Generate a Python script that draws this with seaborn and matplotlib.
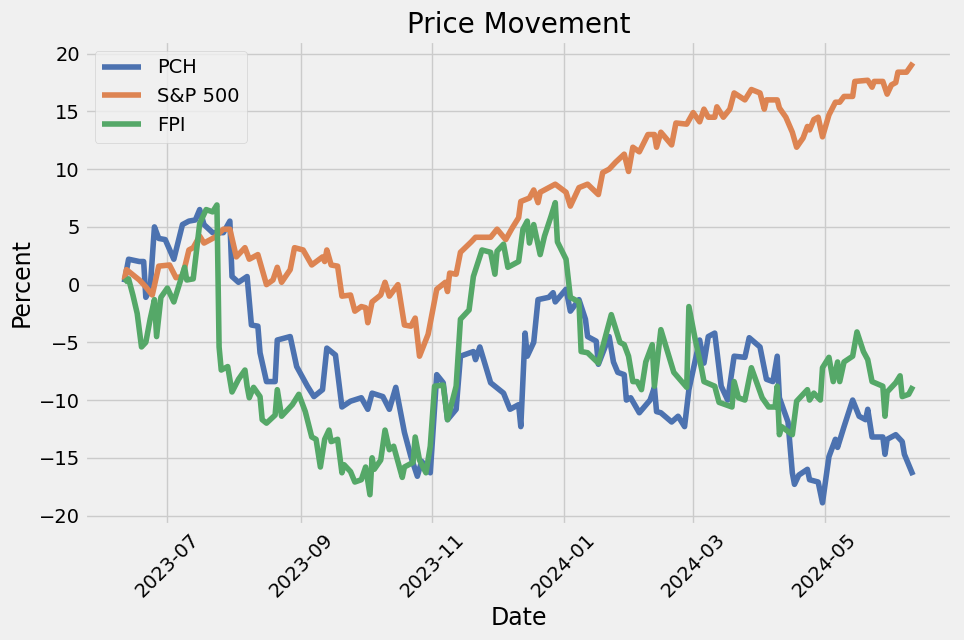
import pandas as pd
import matplotlib
matplotlib.use('Agg')
import matplotlib.pyplot as plt
import seaborn as sns

# vertices (cumulative % change)
pch_dates = ['2023-06-11', '2023-06-13', '2023-06-18', '2023-06-20', '2023-06-21', '2023-06-23',
             '2023-06-25', '2023-06-27', '2023-06-30', '2023-07-04', '2023-07-08', '2023-07-11',
             '2023-07-14', '2023-07-16', '2023-07-18', '2023-07-22', '2023-07-27', '2023-07-30',
             '2023-07-31', '2023-08-03', '2023-08-07', '2023-08-09', '2023-08-12', '2023-08-13',
             '2023-08-16', '2023-08-20', '2023-08-21', '2023-08-27', '2023-08-30', '2023-09-04',
             '2023-09-07', '2023-09-11', '2023-09-13', '2023-09-17', '2023-09-20', '2023-09-24',
             '2023-09-29', '2023-10-02', '2023-10-04', '2023-10-09', '2023-10-12', '2023-10-15',
             '2023-10-19', '2023-10-22', '2023-10-25', '2023-10-27', '2023-10-31', '2023-11-03',
             '2023-11-06', '2023-11-08', '2023-11-12', '2023-11-14', '2023-11-20', '2023-11-21',
             '2023-11-23', '2023-11-28', '2023-11-30', '2023-12-04', '2023-12-07', '2023-12-11',
             '2023-12-12', '2023-12-14', '2023-12-15', '2023-12-18', '2023-12-20', '2023-12-25',
             '2023-12-27', '2023-12-28', '2024-01-02', '2024-01-04', '2024-01-08', '2024-01-11',
             '2024-01-12', '2024-01-16', '2024-01-17', '2024-01-22', '2024-01-24', '2024-01-26',
             '2024-01-29', '2024-01-30', '2024-02-01', '2024-02-05', '2024-02-10', '2024-02-12',
             '2024-02-13', '2024-02-15', '2024-02-20', '2024-02-23', '2024-02-26', '2024-02-28',
             '2024-03-04', '2024-03-06', '2024-03-08', '2024-03-11', '2024-03-14', '2024-03-17',
             '2024-03-20', '2024-03-25', '2024-03-27', '2024-04-01', '2024-04-04', '2024-04-07',
             '2024-04-09', '2024-04-10', '2024-04-14', '2024-04-16', '2024-04-17', '2024-04-19',
             '2024-04-23', '2024-04-24', '2024-04-28', '2024-04-30', '2024-05-03', '2024-05-06',
             '2024-05-07', '2024-05-10', '2024-05-14', '2024-05-17', '2024-05-20', '2024-05-21',
             '2024-05-23', '2024-05-28', '2024-05-29', '2024-05-30', '2024-06-03', '2024-06-06',
             '2024-06-07', '2024-06-11']
pch_vals = [0.2, 2.2, 2.0, 2.0, -1.1, -0.4, 5.0, 4.0, 3.9, 2.2, 5.2, 5.5,
            5.6, 6.5, 5.2, 4.5, 4.5, 5.5, 0.7, 0.2, 0.7, -3.5, -3.6, -5.9,
            -8.4, -8.4, -4.8, -4.5, -7.1, -8.8, -9.7, -9.1, -5.5, -6.1, -10.6, -10.1,
            -9.8, -10.8, -9.4, -9.7, -10.8, -8.9, -12.8, -14.9, -16.6, -15.3, -16.3, -7.8,
            -8.5, -11.7, -10.8, -6.2, -5.8, -6.5, -5.4, -8.5, -8.8, -9.4, -10.8, -10.4,
            -12.3, -4.2, -6.2, -5.0, -1.3, -1.1, -0.7, -1.5, -0.4, -2.3, -1.3, -3.0,
            -4.5, -4.9, -6.9, -4.5, -6.7, -7.6, -7.8, -10.0, -9.8, -11.1, -10.0, -8.9,
            -11.0, -11.1, -11.9, -11.4, -12.3, -9.1, -4.8, -6.8, -4.5, -4.2, -8.8, -10.0,
            -6.2, -6.3, -4.6, -5.4, -8.2, -8.4, -6.2, -9.8, -11.9, -16.3, -17.3, -16.5,
            -16.0, -16.9, -17.1, -18.9, -14.9, -13.4, -14.1, -12.3, -10.0, -11.4, -11.7, -10.8,
            -13.2, -13.2, -14.7, -13.4, -13.0, -13.6, -14.7, -16.5]

sp_dates = ['2023-06-11', '2023-06-12', '2023-06-18', '2023-06-21', '2023-06-24', '2023-06-27',
            '2023-07-02', '2023-07-05', '2023-07-08', '2023-07-11', '2023-07-13', '2023-07-16',
            '2023-07-18', '2023-07-23', '2023-07-27', '2023-07-30', '2023-08-02', '2023-08-06',
            '2023-08-08', '2023-08-12', '2023-08-16', '2023-08-19', '2023-08-21', '2023-08-23',
            '2023-08-27', '2023-08-29', '2023-09-02', '2023-09-06', '2023-09-11', '2023-09-12',
            '2023-09-13', '2023-09-15', '2023-09-18', '2023-09-20', '2023-09-24', '2023-09-26',
            '2023-09-29', '2023-10-01', '2023-10-02', '2023-10-04', '2023-10-08', '2023-10-10',
            '2023-10-12', '2023-10-16', '2023-10-19', '2023-10-22', '2023-10-24', '2023-10-26',
            '2023-10-30', '2023-11-03', '2023-11-07', '2023-11-08', '2023-11-09', '2023-11-12',
            '2023-11-14', '2023-11-19', '2023-11-21', '2023-11-28', '2023-12-01', '2023-12-05',
            '2023-12-08', '2023-12-11', '2023-12-12', '2023-12-16', '2023-12-18', '2023-12-20',
            '2023-12-21', '2023-12-28', '2024-01-02', '2024-01-04', '2024-01-08', '2024-01-12',
            '2024-01-17', '2024-01-19', '2024-01-22', '2024-01-25', '2024-01-29', '2024-01-31',
            '2024-02-02', '2024-02-05', '2024-02-09', '2024-02-12', '2024-02-13', '2024-02-15',
            '2024-02-20', '2024-02-22', '2024-02-27', '2024-03-01', '2024-03-04', '2024-03-06',
            '2024-03-08', '2024-03-11', '2024-03-12', '2024-03-15', '2024-03-18', '2024-03-20',
            '2024-03-25', '2024-03-28', '2024-04-01', '2024-04-03', '2024-04-04', '2024-04-09',
            '2024-04-10', '2024-04-13', '2024-04-16', '2024-04-18', '2024-04-21', '2024-04-23',
            '2024-04-24', '2024-04-26', '2024-04-28', '2024-04-30', '2024-05-03', '2024-05-06',
            '2024-05-08', '2024-05-10', '2024-05-14', '2024-05-15', '2024-05-21', '2024-05-23',
            '2024-05-24', '2024-05-28', '2024-05-30', '2024-06-01', '2024-06-03', '2024-06-04',
            '2024-06-08', '2024-06-11']
sp_vals = [0.4, 1.3, 0.4, -0.2, -0.9, 1.6, 1.7, 0.6, 0.7, 3.0, 3.2, 4.2,
           3.6, 4.1, 4.8, 4.8, 2.4, 3.2, 2.2, 2.6, 0.0, 0.4, 1.5, 0.2,
           1.3, 3.2, 3.0, 1.7, 2.4, 2.0, 3.0, 1.7, 1.6, -1.0, -0.9, -2.3,
           -1.9, -2.0, -3.3, -1.5, -0.9, 0.2, -1.0, 0.0, -3.5, -3.6, -2.9, -6.2,
           -4.3, -0.4, 0.2, -0.6, 1.0, 0.9, 2.8, 3.7, 4.1, 4.1, 4.8, 3.9,
           4.9, 5.8, 7.2, 7.5, 8.2, 7.1, 8.0, 8.7, 8.0, 6.8, 8.4, 8.7,
           7.8, 9.7, 10.0, 10.6, 11.3, 9.8, 11.9, 11.5, 13.0, 13.0, 11.9, 13.2,
           12.1, 14.0, 13.9, 14.9, 14.1, 15.2, 14.5, 14.5, 15.4, 14.5, 15.2, 16.6,
           16.0, 16.9, 16.6, 15.2, 16.0, 16.0, 15.3, 14.5, 13.2, 11.9, 12.7, 13.7,
           13.4, 14.3, 14.5, 12.8, 14.7, 15.8, 15.8, 16.3, 16.3, 17.6, 17.7, 17.1,
           17.6, 17.6, 16.5, 17.3, 17.5, 18.4, 18.4, 19.2]

fpi_dates = ['2023-06-11', '2023-06-13', '2023-06-15', '2023-06-17', '2023-06-19', '2023-06-21',
             '2023-06-23', '2023-06-25', '2023-06-26', '2023-06-28', '2023-07-01', '2023-07-04',
             '2023-07-06', '2023-07-09', '2023-07-10', '2023-07-13', '2023-07-16', '2023-07-19',
             '2023-07-22', '2023-07-24', '2023-07-25', '2023-07-26', '2023-07-29', '2023-07-31',
             '2023-08-03', '2023-08-06', '2023-08-07', '2023-08-08', '2023-08-10', '2023-08-13',
             '2023-08-14', '2023-08-16', '2023-08-20', '2023-08-21', '2023-08-23', '2023-08-28',
             '2023-08-31', '2023-09-03', '2023-09-06', '2023-09-08', '2023-09-10', '2023-09-12',
             '2023-09-14', '2023-09-15', '2023-09-18', '2023-09-20', '2023-09-21', '2023-09-24',
             '2023-09-26', '2023-09-29', '2023-10-01', '2023-10-03', '2023-10-04', '2023-10-05',
             '2023-10-08', '2023-10-10', '2023-10-12', '2023-10-14', '2023-10-18', '2023-10-19',
             '2023-10-23', '2023-10-24', '2023-10-26', '2023-10-29', '2023-10-31', '2023-11-02',
             '2023-11-06', '2023-11-08', '2023-11-12', '2023-11-14', '2023-11-18', '2023-11-20',
             '2023-11-24', '2023-11-28', '2023-11-30', '2023-12-01', '2023-12-04', '2023-12-06',
             '2023-12-11', '2023-12-13', '2023-12-15', '2023-12-16', '2023-12-18', '2023-12-21',
             '2023-12-23', '2023-12-26', '2023-12-28', '2023-12-29', '2024-01-02', '2024-01-04',
             '2024-01-08', '2024-01-09', '2024-01-12', '2024-01-17', '2024-01-23', '2024-01-27',
             '2024-01-29', '2024-01-31', '2024-02-02', '2024-02-04', '2024-02-06', '2024-02-08',
             '2024-02-11', '2024-02-12', '2024-02-15', '2024-02-21', '2024-02-27', '2024-02-28',
             '2024-03-02', '2024-03-05', '2024-03-06', '2024-03-11', '2024-03-13', '2024-03-19',
             '2024-03-20', '2024-03-22', '2024-03-25', '2024-03-28', '2024-04-02', '2024-04-05',
             '2024-04-08', '2024-04-09', '2024-04-10', '2024-04-11', '2024-04-16', '2024-04-18',
             '2024-04-23', '2024-04-24', '2024-04-26', '2024-04-29', '2024-04-30', '2024-05-03',
             '2024-05-05', '2024-05-07', '2024-05-08', '2024-05-10', '2024-05-14', '2024-05-16',
             '2024-05-19', '2024-05-21', '2024-05-23', '2024-05-28', '2024-05-29', '2024-05-30',
             '2024-06-03', '2024-06-05', '2024-06-06', '2024-06-09', '2024-06-11']
fpi_vals = [0.2, 0.5, -0.9, -2.5, -5.4, -5.0, -3.0, -1.3, -4.5, -1.1, -0.3, -1.5,
            -0.3, 1.5, 0.4, 0.5, 5.3, 6.5, 6.3, 6.9, -5.4, -7.4, -7.1, -9.3,
            -8.2, -7.4, -8.8, -9.8, -8.9, -9.7, -11.7, -12.0, -11.3, -9.1, -11.4, -10.4,
            -9.5, -11.0, -13.2, -13.4, -15.8, -13.4, -12.6, -13.6, -13.4, -16.3, -15.6, -16.2,
            -17.1, -16.9, -15.8, -18.2, -15.0, -16.0, -15.2, -12.6, -14.3, -14.0, -16.7, -15.8,
            -15.4, -13.2, -15.2, -16.3, -14.0, -8.8, -8.7, -11.7, -8.8, -3.0, -2.2, 0.7,
            3.0, 2.8, 0.9, 2.9, 3.5, 1.5, 2.0, 4.8, 5.5, 3.6, 5.2, 2.6,
            4.2, 5.9, 7.1, 3.7, 2.2, -1.1, -1.5, -5.8, -5.9, -6.8, -2.6, -5.0,
            -5.2, -6.2, -8.4, -8.4, -9.1, -6.7, -5.2, -8.8, -3.9, -7.6, -8.9, -1.9,
            -4.8, -7.4, -8.4, -8.8, -10.2, -10.6, -8.4, -9.8, -10.0, -7.2, -9.8, -10.6,
            -10.6, -8.8, -13.0, -12.3, -13.0, -10.1, -9.1, -10.0, -9.4, -10.0, -7.2, -6.3,
            -8.4, -6.7, -8.4, -6.7, -6.2, -4.1, -5.8, -6.5, -8.4, -8.8, -11.4, -9.3,
            -8.5, -7.9, -9.7, -9.5, -8.8]

series = {
    'PCH': (pch_dates, pch_vals),
    'S&P 500': (sp_dates, sp_vals),
    'FPI': (fpi_dates, fpi_vals),
}

plt.style.use('fivethirtyeight')
colors = sns.color_palette('deep')

fig, ax = plt.subplots(figsize=(9.64, 6.4), dpi=100)
fig.patch.set_facecolor('#f0f0f0')
for i, (name, (d, v)) in enumerate(series.items()):
    sns.lineplot(x=pd.to_datetime(d), y=v, label=name, color=colors[i], linewidth=4, ax=ax)

ax.set_title('Price Movement', fontsize=20)
ax.set_xlabel('Date', fontsize=17)
ax.set_ylabel('Percent', fontsize=17)
ax.set_yticks([-20, -15, -10, -5, 0, 5, 10, 15, 20])
plt.xticks(rotation=45)
ax.tick_params(labelsize=14)
ax.legend(loc='upper left', fontsize=14)
fig.subplots_adjust(left=0.088, right=0.988, top=0.936, bottom=0.18)
plt.savefig('out.png', dpi=100)
